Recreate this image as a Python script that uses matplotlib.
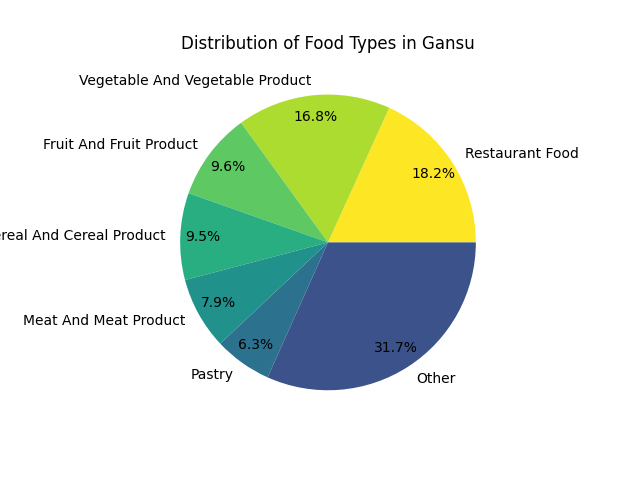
import matplotlib
matplotlib.use('Agg')
import matplotlib.pyplot as plt
import numpy as np

# Данные
food_types = ['Restaurant Food', 'Vegetable And Vegetable Product',
              'Fruit And Fruit Product', 'Cereal And Cereal Product',
              'Meat And Meat Product', 'Pastry', 'Other']
shares = [18.2, 16.8, 9.6, 9.5, 7.9, 6.3, 31.7]

# Цвета viridis, от жёлтого к синему
colors = plt.cm.viridis(np.linspace(0, 1, 9))[2:][::-1]

fig, ax = plt.subplots(figsize=(6.4, 4.8), dpi=100)
ax.pie(shares, labels=food_types, colors=colors,
       autopct='%1.1f%%', pctdistance=0.85, startangle=0)
ax.set_title('Distribution of Food Types in Gansu')

plt.savefig('out.png', dpi=100)
